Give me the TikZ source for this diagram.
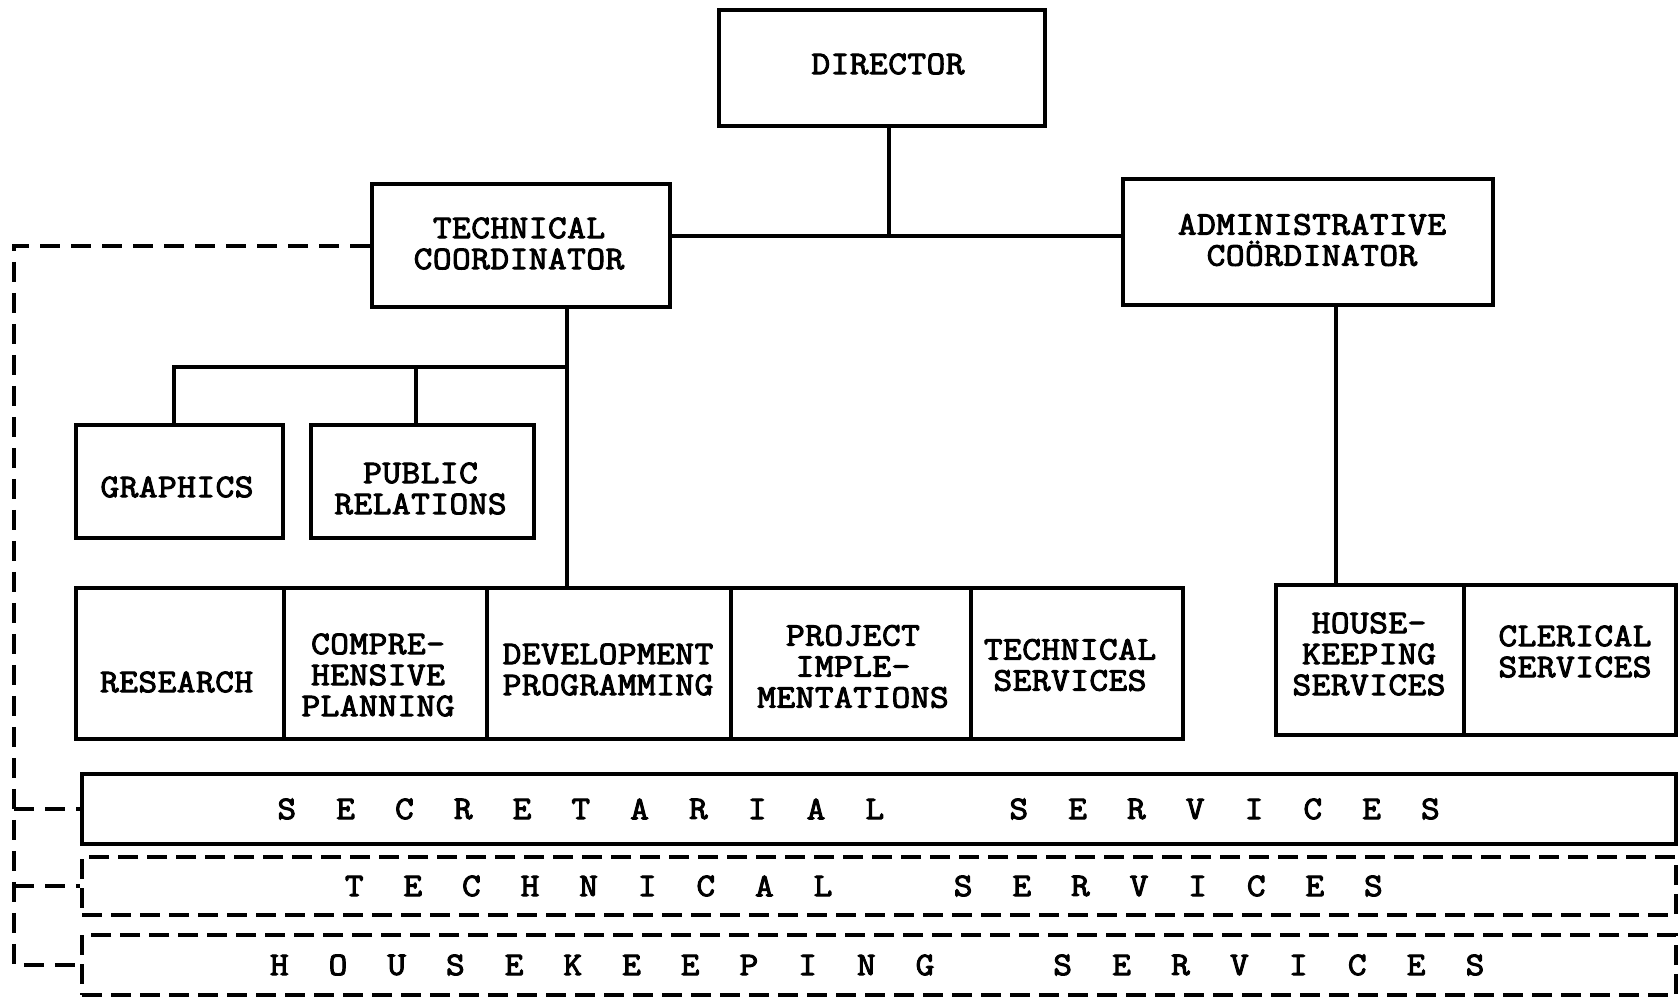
\documentclass[tikz,border=0pt]{standalone}
\usepackage{fontspec}
\newfontfamily\tw[LetterSpace=1.5, FakeStretch=1.1, FakeBold=3]{Latin Modern Mono}
\newfontfamily\twb[FakeStretch=1.1, FakeBold=3]{Latin Modern Mono}
\newcommand\boxfont{\tw\fontsize{33}{31}\selectfont}
\newcommand\bandfont{\twb\fontsize{33}{32}\selectfont}
\begin{document}
\begin{tikzpicture}[x=1pt,y=-1pt,
  box/.style={draw, line width=4.5pt, inner sep=0pt},
  txt/.style={font=\boxfont, align=center, inner sep=0pt},
  conn/.style={line width=4pt},
  dconn/.style={line width=4pt, dash pattern=on 20pt off 11pt},
  band/.style={draw, line width=4.5pt, inner sep=0pt, minimum width=1594pt},
  dband/.style={band, dash pattern=on 20pt off 9pt},
  bl/.style={font=\bandfont, inner sep=0pt}
]
\useasboundingbox (0,0) rectangle (1678,997);

% top level
\node[box, minimum width=326pt, minimum height=116pt] (dir) at (882,68) {};
\node[box, minimum width=298pt, minimum height=123pt] (tc) at (521,245.5) {};
\node[box, minimum width=370pt, minimum height=126pt] (ac) at (1308,242) {};

% staff boxes
\node[box, minimum width=207pt, minimum height=113pt] (gr) at (179.5,481.5) {};
\node[box, minimum width=223pt, minimum height=113pt] (pr) at (422.5,481.5) {};

% technical row
\node[box, minimum width=208pt, minimum height=151pt] (res) at (180,663.5) {};
\node[box, minimum width=203pt, minimum height=151pt] (cp) at (385.5,663.5) {};
\node[box, minimum width=244pt, minimum height=151pt] (dp) at (609,663.5) {};
\node[box, minimum width=240pt, minimum height=151pt] (pi) at (851,663.5) {};
\node[box, minimum width=212pt, minimum height=151pt] (ts) at (1077,663.5) {};

% administrative row
\node[box, minimum width=188pt, minimum height=150pt] (hk) at (1370,660) {};
\node[box, minimum width=212pt, minimum height=150pt] (cl) at (1570,660) {};

% service bands
\node[band, minimum height=70pt] (sec) at (879,809) {};
\node[dband, minimum height=58pt] (tsb) at (879,886) {};
\node[dband, minimum height=60pt] (hsb) at (879,965) {};

% box texts
\node[txt] (tdir) at (888,64) {DIRECTOR};
\node[txt] (ttc) at (519,243.5) {TECHNICAL\\COORDINATOR};
\node[txt] (tac) at (1312,240) {ADMINISTRATIVE\\CO\"ORDINATOR};
\node[txt] (tgr) at (177,487) {GRAPHICS};
\node[txt] (tpr) at (420.5,488.5) {PUBLIC\\RELATIONS};
\node[txt] (tres) at (176.6,682) {RESEARCH};
\node[txt] (tcp) at (378,675) {COMPRE-\\HENSIVE\\PLANNING};
\node[txt] (tdp) at (608,669.5) {DEVELOPMENT\\PROGRAMMING};
\node[txt] (tpi) at (853,666.5) {PROJECT\\IMPLE-\\MENTATIONS};
\node[txt] (tts) at (1070,665) {TECHNICAL\\SERVICES};
\node[txt] (thk) at (1369,654) {HOUSE-\\KEEPING\\SERVICES};
\node[txt] (tcl) at (1575,651.5) {CLERICAL\\SERVICES};

% band letters
\foreach \l [count=\i from 0] in {S,E,C,R,E,T,A,R,I,A,L}
  \node[bl] (sa\i) at ({286.8+58.8*\i},809) {\l};
\foreach \l [count=\i from 0] in {S,E,R,V,I,C,E,S}
  \node[bl] (sb\i) at ({1018.8+58.8*\i},809) {\l};
\foreach \l [count=\i from 0] in {T,E,C,H,N,I,C,A,L}
  \node[bl] (ta\i) at ({354.2+58.6*\i},886) {\l};
\foreach \l [count=\i from 0] in {S,E,R,V,I,C,E,S}
  \node[bl] (tb\i) at ({963.2+58.6*\i},886) {\l};
\foreach \l [count=\i from 0] in {H,O,U,S,E,K,E,E,P,I,N,G}
  \node[bl] (ha\i) at ({279.3+58.7*\i},965) {\l};
\foreach \l [count=\i from 0] in {S,E,R,V,I,C,E,S}
  \node[bl] (hb\i) at ({1062.7+58.9*\i},965) {\l};

% connectors
\coordinate (jd) at (889,236);
\draw[conn] (jd |- dir.south) -- (jd);
\draw[conn] (tc.east |- jd) -- (ac.west |- jd);

\coordinate (jt) at (567,367);
\coordinate (jg) at (174,367);
\coordinate (jp) at (416,367);
\draw[conn] (jt |- tc.south) -- (jt |- dp.north);
\draw[conn] (jt) -- (jg) -- (jg |- gr.north);
\draw[conn] (jp) -- (jp |- pr.north);

\coordinate (ja) at (1336,300);
\draw[conn] (ja |- ac.south) -- (ja |- hk.north);

% dashed link to service bands
\coordinate (lt) at (14,245.5);
\coordinate (lb) at (14,965);
\draw[dconn] (tc.west) -- (lt) -- (lb) -- (hsb.west);
\draw[dconn] (lt |- sec.west) -- (sec.west);
\draw[dconn] (lt |- tsb.west) -- (tsb.west);
\end{tikzpicture}
\end{document}
